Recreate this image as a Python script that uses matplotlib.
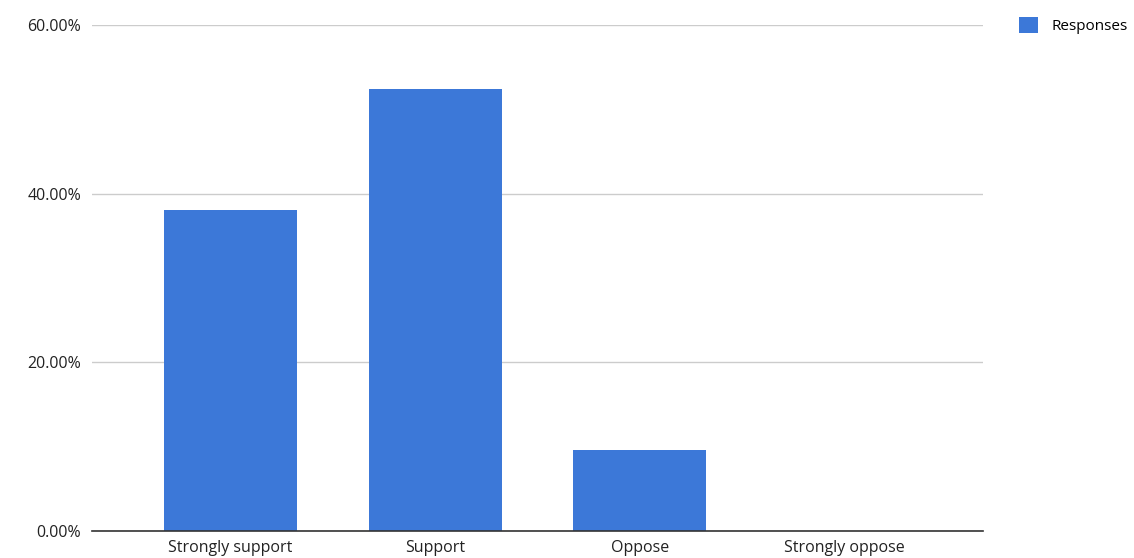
import numpy as np
import matplotlib.pyplot as plt
from matplotlib.ticker import PercentFormatter

# survey answers, share of responses
categories = ['Strongly support', 'Support', 'Oppose', 'Strongly oppose']
responses = [8 / 21, 11 / 21, 2 / 21, 0.0]
yticks = [0, 0.2, 0.4, 0.6]

plt.rcParams['font.family'] = ['Open Sans', 'DejaVu Sans']

fig = plt.figure(figsize=(11.34, 5.58), dpi=100)
ax = fig.add_axes([92 / 1134, 27.3 / 558, (983 - 92) / 1134, (530.7 - 25) / 558])

x = np.arange(len(categories))
ax.bar(x, responses, width=0.65, color='#3c78d8', label='Responses', zorder=3)

ax.set_xlim(-0.676, 3.676)
ax.set_ylim(0, 0.6)
ax.set_yticks(yticks)
ax.yaxis.set_major_formatter(PercentFormatter(1.0, decimals=2))
ax.set_xticks(x)
ax.set_xticklabels(categories)
ax.tick_params(axis='both', length=0, labelsize=11.5, colors='#222222')
ax.tick_params(axis='y', pad=8)
ax.tick_params(axis='x', pad=7)

ax.grid(axis='y', color='#cccccc', linewidth=1, zorder=0)
for side in ['top', 'right', 'left']:
    ax.spines[side].set_visible(False)
ax.spines['bottom'].set_color('#333333')
ax.spines['bottom'].set_linewidth(1.2)
ax.spines['bottom'].set_zorder(4)

fig.legend(loc='upper left', bbox_to_anchor=(1005 / 1134, 1 - 3 / 558), frameon=False,
           fontsize=11, handlelength=1.25, handleheight=1.25, handletextpad=0.9)

fig.savefig('out.png', dpi=100)
